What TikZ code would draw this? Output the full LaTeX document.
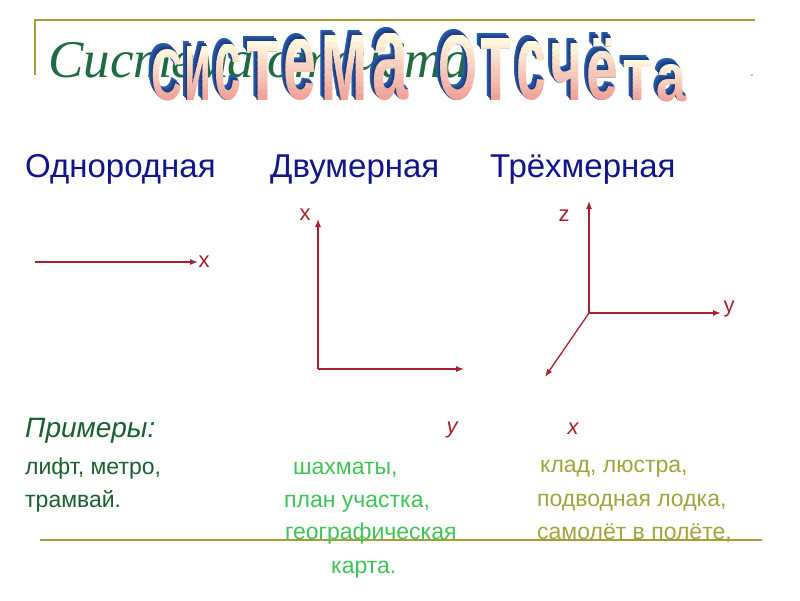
\documentclass[tikz,border=0pt]{standalone}
\usepackage{fontspec}
\usepackage{graphicx}
\setmainfont{Liberation Sans}
\newfontfamily\titlefont{Liberation Serif}
\usetikzlibrary{arrows.meta}
\definecolor{frame}{HTML}{A89C34}
\definecolor{ttlgreen}{HTML}{1D6B3F}
\definecolor{head}{HTML}{14148A}
\definecolor{axis}{HTML}{A8202E}
\definecolor{dkgreen}{HTML}{1B5E32}
\definecolor{brgreen}{HTML}{3DC455}
\definecolor{olivetxt}{HTML}{A0A43C}
\definecolor{exblue}{HTML}{2A5EB4}
\definecolor{exnavy}{HTML}{0A1236}
\definecolor{wacream}{HTML}{FFF7DE}
\definecolor{wapink}{HTML}{EFA29A}
\tikzset{
  frameline/.style={draw=frame, line width=1.6pt},
  axisline/.style={draw=axis, line width=1.3pt, -{Latex[length=8pt,width=6pt]}},
  axlabel/.style={text=axis, font=\fontsize{22}{24}\selectfont, inner sep=0},
  axlabelit/.style={text=axis, font=\fontsize{22}{24}\selectfont\itshape, inner sep=0},
  heading/.style={text=head, font=\fontsize{33}{36}\selectfont, anchor=base west, inner sep=0},
  extext/.style={font=\fontsize{23}{25}\selectfont, anchor=base west, inner sep=0},
  waglyph/.style={anchor=south west, inner sep=0, font=\bfseries},
}
\newcommand\waglyph[5]{%
  \pgfmathsetmacro\wW{#2-#1}%
  \pgfmathsetmacro\wH{#4-#3}%
  \foreach \k in {7,...,1}{%
    \pgfmathtruncatemacro\mixv{44+\k*8}%
    \node[waglyph, text=exblue!\mixv!exnavy] at (#1-0.55*\k,#4-0.75*\k) {\resizebox{\wW pt}{\wH pt}{#5}};
  }%
  \foreach \b in {0,...,9}{%
    \pgfmathsetmacro\yA{#3+\wH*\b/10-0.2}%
    \pgfmathsetmacro\yB{#3+\wH*(\b+1)/10+0.3}%
    \pgfmathtruncatemacro\mixc{100-\b*11}%
    \begin{scope}
      \clip (#1-3,\yA) rectangle (#2+3,\yB);
      \node[waglyph, text=wacream!\mixc!wapink] at (#1,#4) {\resizebox{\wW pt}{\wH pt}{#5}};
    \end{scope}
  }%
}
\begin{document}
\begin{tikzpicture}[x=1pt,y=-1pt]
\useasboundingbox (0,0) rectangle (800,600);
\fill[white] (0,0) rectangle (800,600);
% frame lines
\coordinate (ftl) at (35,20);
\coordinate (ftr) at (755,20);
\coordinate (fbl) at (35,75);
\draw[frameline] (fbl) -- (ftl) -- (ftr);
\coordinate (bl) at (40,540);
\coordinate (br) at (762,540);
\draw[frameline] (bl) -- (br);
% background title
\node[anchor=base west, inner sep=0, text=ttlgreen, font=\titlefont\itshape\fontsize{53}{56}\selectfont] (ttl) at (48,77) {Система отсчёта};
\node[anchor=base, inner sep=0, text=gray, font=\fontsize{14}{16}\selectfont] (dot) at (752,76) {.};
% WordArt title
\waglyph{151}{182}{50}{101}{С}
\waglyph{184}{211}{47}{101}{и}
\waglyph{214}{241}{45}{101}{с}
\waglyph{245}{280}{42}{101}{т}
\waglyph{283}{316}{40}{101}{е}
\waglyph{320}{368}{36}{101}{м}
\waglyph{372}{408}{34}{101}{а}
\waglyph{438}{477}{36}{101}{О}
\waglyph{479}{512}{39}{101}{т}
\waglyph{516}{546}{42}{101}{с}
\waglyph{550}{582}{44}{101}{ч}
\waglyph{586}{618}{39}{101}{ё}
\waglyph{622}{652}{61}{101}{т}
\waglyph{656}{686}{65}{102}{а}
% headings
\node[heading] (h1) at (25,177) {Однородная};
\node[heading] (h2) at (270,177) {Двумерная};
\node[heading] (h3) at (490,177) {Трёхмерная};
% 1D axis
\coordinate (a1s) at (35,262);
\coordinate (a1e) at (198,262);
\draw[axisline] (a1s) -- (a1e);
\node[axlabel] (lx1) at (204,262) {x};
% 2D axis
\coordinate (o2) at (318,369);
\coordinate (o2x) at (318,219);
\coordinate (o2y) at (464,369);
\draw[axisline] (o2) -- (o2x);
\draw[axisline] (o2) -- (o2y);
\node[axlabel] (lx2) at (305,215) {x};
\node[axlabelit] (ly2) at (452,430) {y};
% 3D axis
\coordinate (o3) at (589,313);
\coordinate (o3z) at (589,201);
\coordinate (o3y) at (721,313);
\coordinate (o3x) at (545,377);
\draw[axisline] (o3) -- (o3z);
\draw[axisline] (o3) -- (o3y);
\draw[axisline] (o3) -- (o3x);
\node[axlabel] (lz3) at (564,216) {z};
\node[axlabel] (ly3) at (729,309) {y};
\node[axlabelit] (lx3) at (573,429) {x};
% examples
\node[extext, text=dkgreen, font=\fontsize{28}{30}\selectfont\itshape] (ex) at (25,437) {Примеры:};
\node[extext, text=dkgreen] (e11) at (25,474) {лифт, метро,};
\node[extext, text=dkgreen] (e12) at (25,507) {трамвай.};
\node[extext, text=brgreen] (e21) at (293,474) {шахматы,};
\node[extext, text=brgreen] (e22) at (284,507) {план участка,};
\node[extext, text=brgreen] (e23) at (285,539) {географическая};
\node[extext, text=brgreen] (e24) at (331,573) {карта.};
\node[extext, text=olivetxt] (e31) at (540,472) {клад, люстра,};
\node[extext, text=olivetxt] (e32) at (537,506) {подводная лодка,};
\node[extext, text=olivetxt] (e33) at (537,539) {самолёт в полёте,};
\end{tikzpicture}
\end{document}
